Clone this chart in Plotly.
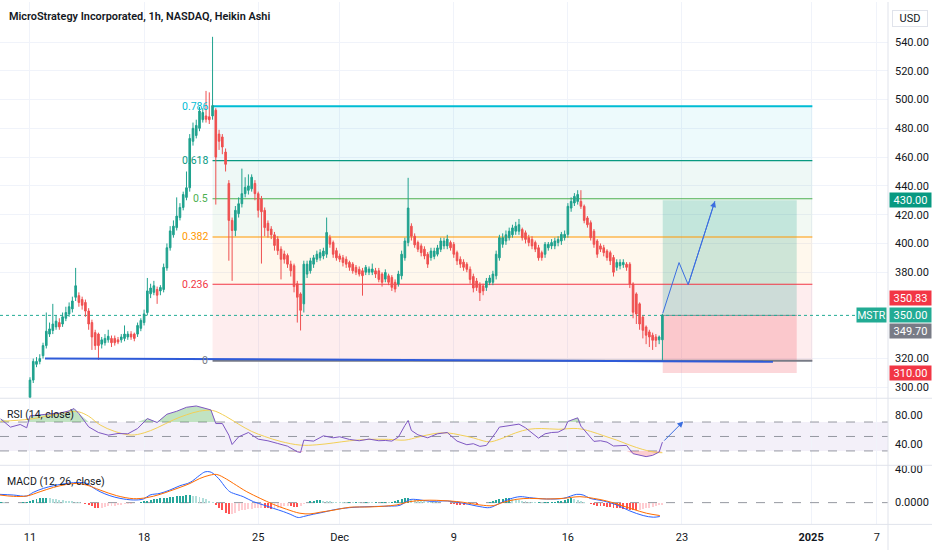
import numpy as np
import plotly.graph_objects as go

W, H = 932, 550

# ---------------- time axis (bar index of 1h regular-session bars) ----------------
TICK_POS = [0, 35, 70, 95, 130, 165, 200, 239.6, 259.8]
TICK_TEXT = ["11", "18", "25", "Dec", "9", "16", "23", "<b>2025</b>", "7"]

# ---------------- Heikin Ashi candles (bars 0..194) ----------------
HA_OPEN = [
    293, 305, 316, 318, 322, 329, 337, 339.5, 342, 345,
    344, 348, 351, 354.5, 362.6, 363.7, 361, 359, 353, 345,
    338, 337, 330, 331, 333, 334, 334, 333, 333, 334,
    335, 337, 337, 337, 341, 345, 352, 365, 366, 368,
    367, 368, 383, 397, 406, 411, 418, 425, 432, 438.7,
    471, 475, 480, 486, 488.6, 488, 488.6, 492.6, 476, 474,
    463.5, 441.7, 416, 409, 420.7, 427.6, 434.6, 436.9, 438, 441.7,
    434.6, 431, 423, 414, 410, 406, 403, 396, 392.7, 391.6,
    385.6, 384.5, 372, 364.9, 358, 378.7, 381, 385.6, 389, 390,
    391.3, 392.5, 404, 400.6, 395, 391.3, 390, 389, 386.8, 385.6,
    383.4, 382, 381, 380, 380, 380, 381, 381, 378.7, 375.2,
    377.5, 376.4, 373, 371.8, 377.5, 390, 400.6, 412, 405, 400.6,
    398.3, 396, 392.5, 390.2, 391, 392.5, 395.9, 398.3, 398.3, 400.6,
    399.4, 393.6, 389, 387, 385.6, 382, 377, 373.9, 371.6, 370.5,
    369.4, 372.8, 373, 377.5, 390, 399.4, 401.7, 404, 406, 408.5,
    408.5, 409.7, 407.4, 404, 402.8, 400.6, 397, 393.6, 392.5, 397,
    398.3, 398.3, 400.6, 401.7, 404, 406.3, 424.6, 428.1, 429.2, 429.2,
    425.8, 417.7, 414.4, 408.5, 401.7, 398.3, 397, 394.7, 393.6, 390.2,
    383.4, 384.5, 385.2, 385.6, 385.6, 371.8, 364.9, 358, 348.8, 341.9,
    338.5, 336.2, 335, 333, 333,
]
HA_CLOSE = [
    305, 318, 318, 320, 329, 339, 340.6, 344, 346, 342,
    349, 352, 356, 360, 370.6, 359, 357, 353, 344, 335,
    329, 329, 333, 334, 335.5, 331, 331, 331.5, 335, 337,
    337, 335, 334, 343, 346.5, 351, 367, 369, 370.6, 364,
    369.4, 383.4, 397, 408.7, 412, 419, 425, 434, 438.7, 473,
    480, 482, 492, 491, 486.3, 486, 495.8, 460, 471, 467,
    455, 416, 409, 423, 427.6, 434.6, 439, 440, 446, 434.6,
    423, 422, 411, 409, 406, 398.6, 395, 389, 389, 385.6,
    381, 370, 362.6, 353.5, 385.6, 385.6, 387.9, 390, 392.5, 393.6,
    394.7, 407.6, 399.5, 392.5, 390, 389, 386.8, 385.6, 383.4, 381,
    380, 378.7, 377.6, 383.4, 382.2, 382.2, 378.7, 375, 373, 379.8,
    373, 369.5, 368.3, 378.7, 392.5, 401.7, 424.6, 405, 399, 396,
    393.6, 391.3, 385.6, 394.7, 394.7, 396.9, 401.7, 401.7, 403, 397,
    392.5, 387.9, 385.6, 383.4, 382, 375, 369, 369.4, 365.8, 367,
    373.9, 376, 378.7, 392.5, 404, 404, 406, 408.5, 410.8, 412,
    413, 404, 402.8, 400.6, 398.3, 396, 390, 390.2, 399.4, 399.4,
    400.6, 401.7, 402.8, 406.3, 406.3, 425.8, 429.2, 432.7, 434, 425.8,
    416, 413, 404, 399.4, 392.5, 396, 393.6, 390.2, 387.9, 380,
    386.8, 386.8, 386.8, 383.4, 371.8, 352.2, 351, 344, 339.6, 336.2,
    335, 332.7, 332.7, 335, 350.2,
]
HA_HIGH = [
    307, 320, 321, 323, 331, 352, 345, 358, 350, 348,
    352, 356, 359, 363, 383, 366, 363, 361, 355, 347,
    340, 338, 335, 337, 340, 336, 336, 335, 337, 343,
    339, 339, 338, 345, 348, 354, 376, 372, 374, 370,
    371, 386, 400, 412, 416, 432, 428, 436, 450, 476,
    484, 486, 495, 494, 506, 505, 543.6, 494, 479, 476,
    466, 444, 418, 426, 432, 452, 446, 448, 448, 444,
    436, 433, 425, 416, 412, 408, 405, 398, 395, 393,
    388, 386, 374, 366, 388, 388, 390, 392, 395, 396,
    397, 418, 406, 402, 397, 393, 392, 391, 388, 387,
    385, 384, 383, 385, 384, 386, 383, 383, 380, 382,
    379, 378, 375, 381, 395, 404, 445.6, 414, 407, 402,
    400, 398, 394, 397, 397, 399, 404, 404, 406, 402,
    401, 395, 391, 389, 387, 384, 379, 376, 373, 372,
    376, 378, 381, 395, 406, 407, 409, 411, 413, 415,
    417, 411, 409, 406, 405, 402, 399, 395, 401, 401,
    403, 404, 405, 408, 409, 428, 432, 435, 437, 437,
    427, 419, 416, 410, 403, 400, 399, 396, 395, 392,
    389, 389, 389, 387, 387, 373, 366, 359, 350, 343,
    340, 338, 337, 336, 351,
]
HA_LOW = [
    290, 303, 314, 316, 320, 327, 335, 337, 340, 340,
    342, 346, 349, 352, 360, 356, 354, 349, 340, 326,
    326, 319, 327, 329, 331, 328, 329, 330, 331, 332,
    333, 333, 332, 335, 339, 343, 350, 362, 364, 358,
    364, 366, 381, 395, 404, 409, 416, 423, 430, 436,
    468, 473, 478, 484, 484, 483, 486, 427, 465, 462,
    450, 388, 374, 405, 418, 425, 432, 434, 436, 430,
    418, 386, 405, 404, 403, 395, 392, 375, 386, 383,
    377, 366, 345, 339.5, 352, 376, 379, 383, 387, 388,
    389, 390, 397, 390, 388, 387, 384, 383, 381, 379,
    378, 377, 363.7, 378, 378, 378, 376, 373, 370, 373,
    371, 367, 366, 370, 375, 388, 398, 402, 397, 394,
    391, 389, 383, 388, 389, 391, 394, 396, 396, 395,
    390, 385, 383, 381, 380, 372, 366, 367, 360, 364,
    367, 371, 371, 375, 388, 397, 399, 402, 404, 406,
    406, 402, 400, 398, 396, 394, 388, 388, 390, 395,
    396, 396, 398, 399, 402, 404, 422, 426, 427, 424,
    414, 411, 402, 397, 390, 394, 391, 388, 385, 377,
    381, 382, 383, 381, 369, 348, 344, 340, 334, 330,
    328, 326, 328, 330, 317.6,
]

# ---------------- RSI (14) read points: (bar, value) ----------------
RSI_PTS = [
    (-9, 74.4), (-6, 62.9), (-3, 66.6), (-1, 62), (0, 78.5), (3, 80.3), (6, 81.2), (9, 82.2),
    (12, 85.4), (13.5, 88.6), (15, 81.7), (18, 63.3), (21, 55.5), (24, 51.8), (27, 54.1),
    (30, 53.7), (33, 61.0), (36, 74.8), (39, 69.3), (42, 80.8), (45, 84.9), (48, 90.4),
    (51, 92.2), (54, 88.6), (55.5, 86.7), (57, 67.9), (59, 67.9), (61, 51.8), (62, 38.9),
    (64, 49.5), (67, 55.5), (70, 46.3), (73, 44), (76, 40.3), (79, 36.6), (82, 28.8),
    (83, 27.9), (84, 44.9), (87, 43.6), (90, 50.9), (93, 48.2), (95, 49.6), (98, 45.9),
    (101, 44.1), (104, 46.4), (107, 44.1), (109, 44.5), (111, 43.6), (113, 49.1), (115, 65.2),
    (116, 72.1), (117, 58.3), (119, 52.3), (122, 48.2), (125, 53.7), (128, 55.5), (131, 43.6),
    (134, 38.6), (136, 40), (138, 36.3), (140, 37.7), (143, 56.1), (144, 63), (146, 64.3),
    (148, 66.2), (150, 67.1), (152, 62), (154, 55.1), (156, 47.7), (158, 53.7), (160, 55.5),
    (162, 56), (164, 60.6), (165, 70.8), (167, 74.4), (168, 75.8), (169, 64.3), (171, 53.7),
    (173, 43.2), (175, 44.1), (177, 42.2), (179, 36.8), (181, 37.7), (183, 37.7), (185, 26.2),
    (187, 23.9), (189, 22.1), (191, 23.9), (193, 28.5), (194, 42.2),
]
RSI_MA_PTS = [
    (-9, 71), (0, 74), (6, 79), (12, 84), (15, 84), (18, 78), (21.5, 66), (26, 57), (31, 52),
    (35, 55), (39, 62), (44, 73), (48, 80), (52, 85), (56, 86), (60, 78), (64, 67), (68, 57),
    (72, 50), (77, 43), (83, 38), (88, 38.5), (93, 41), (98, 44), (104, 46), (110, 46),
    (115, 45), (119, 49), (124, 54), (128, 55), (132, 52), (136, 48), (139, 44), (141, 42.5),
    (144, 46), (149, 55), (153, 60), (157, 61), (162, 60), (168, 61), (172, 57), (176, 51),
    (180, 45), (184, 38), (188, 32), (192, 28), (194, 27.5),
]

# ---------------- MACD (12, 26) read points ----------------
MACD_PTS = [
    (-9.2, 10.0), (-5.1, 9.2), (-1.0, 8.0), (1.0, 12.4), (4.1, 17.2), (7.2, 20.4), (11.2, 23.2),
    (15.3, 24.4), (17.4, 23.2), (19.4, 18.0), (21.5, 13.2), (24.5, 8.4), (27.6, 5.2), (31.7, 3.2),
    (34.8, 4.4), (36.8, 9.2), (39.9, 11.2), (42.9, 15.2), (46, 20.4), (49.1, 24.4), (52.1, 33.2),
    (53.7, 37.2), (55.2, 37.2), (56.2, 35.2), (58.3, 27.2), (59.8, 19.2), (61.3, 13.2),
    (62.4, 11.2), (65.4, 7.2), (68.5, 1.2), (71.6, -2.8), (74.6, -6.8), (77.7, -10.8),
    (79.8, -14.0), (82.3, -18.0), (83.9, -16.8), (86.9, -14.0), (90, -11.6), (93, -8.8),
    (98.1, -6.0), (104.3, -4.8), (110, -4.2), (113.5, -3.2), (116.5, 3.6), (119, 3.6),
    (122.7, 1.6), (128, 2.0), (133, -0.8), (138, -4.8), (141, -6.0), (144, -1.0), (147.2, 4.4),
    (150.3, 7.2), (153.3, 6.0), (158.4, 4.4), (163.6, 5.2), (167.7, 10.0), (169.7, 9.2),
    (171.8, 5.2), (175.9, 2.0), (180, -2.8), (184, -10.0), (188.1, -15.6), (191.2, -17.6),
    (193.2, -16.8),
]
SIGNAL_PTS = [
    (-9.2, 9.2), (-5.1, 7.6), (-1.0, 8.0), (3.1, 13.2), (7.2, 18.4), (11.2, 22.0), (14.3, 23.2),
    (17.4, 21.2), (21.5, 15.2), (26.6, 8.4), (31.7, 4.8), (35.8, 6.0), (39.9, 10.0), (42.9, 14.0),
    (46, 18.4), (49.1, 23.2), (52.1, 29.2), (55.2, 33.2), (57.3, 34.0), (60.3, 28.4), (62.4, 23.2),
    (66.5, 13.2), (70.6, 5.2), (74.6, -2.0), (78.7, -8.0), (82.8, -12.8), (85.9, -13.6),
    (89, -11.6), (93, -9.2), (98.1, -5.6), (104.3, -5.2), (112.4, -2.8), (116.5, 1.2),
    (120.6, 2.8), (124.7, 2.8), (128.8, 2.0), (132.9, 0.4), (138, -2.8), (142.1, -3.6),
    (145.2, 0.4), (149.3, 4.0), (153.3, 5.2), (158.5, 4.4), (163.6, 5.2), (168.7, 7.2),
    (172.8, 5.2), (176.9, 2.0), (181, -2.8), (185, -8.0), (189.1, -12.8), (193.2, -15.6),
]
HIST_START = -9
HIST = [
    0.5, 0.3, -0.3, -0.5, -0.8, -0.5, -0.3, 0.3, 0.8,
    2, 3.5, 4.5, 5, 5.5, 5.5, 5, 4.5, 4, 3.5, 3, 2.5,
    2, 1.5, 1, 0.5, 0,
    -1.5, -3, -4.5, -6, -7, -6.5, -5.5, -4.5, -4, -3.5,
    -3, -2.5, -2, -1.5, -1.2, -1, -0.5, 0.5, 1.5,
    2.5, 3.5, 4, 4.5, 5, 5.5, 6, 6.5, 7, 7.5, 8, 8.5, 9, 9, 8.5, 8, 7,
    5.5, 4, 2.5, 1,
    -3, -6, -9, -12, -14, -13.5, -12, -10,
    -9, -8.5, -8, -7.5, -7, -6.5, -6, -6.5, -7, -7.5, -7, -6, -5, -4.5, -4, -4.5, -5, -5.5, -4, -2, 0,
    1.5, 2.5, 3, 3, 2.5, 2, 1.5, 1.2, 1, 0.8, 0.6, 0.5,
    0.5, 0.3, 0.5, 0.3, 0.2, 0.5, 0.3, 0.2, 0.2, 0.1, 0.2, 0.3, 0.2, 0.3,
    1.5, 3, 4.5, 5.5, 6,
    4.5, 3.5, 2.5, 2, 1.5, 1, 0.5, 0.3, 0.2,
    0, -0.5, -1, -1.5, -2, -2.5, -3, -3, -2.5, -2, -1.5, -1.5, -1, -0.5, 0, 0.5, 1.5,
    3, 4, 4.5, 5, 5, 4.5, 4,
    3, 2.5, 1.5, 1, 0.8, 0.5, 0.5, 0.3, 0.5, 0.8, 1, 1.2, 1.5,
    2.5, 3.5, 4.5, 5, 4.5, 3.5,
    2, 0.5, -1, -2, -3, -3.5, -4, -4.5, -5, -5.5, -6, -6.5, -7, -7.5, -8, -8.5, -9, -9,
    -8.5, -8, -7, -6, -5, -4, -3, -2.5,
]

# ---------------- drawings ----------------
FIB_LEVELS = [0, 0.236, 0.382, 0.5, 0.618, 0.786]
FIB_LABELS = ["0", "0.236", "0.382", "0.5", "0.618", "0.786"]
FIB_LOW, FIB_HIGH = 318.5, 543.6
FIB_X = (56, 240)
TREND_X, TREND_Y = [4.6, 227.9], [320.1, 317.8]
POS_X = (194.1, 235.2)
POS_ENTRY, POS_TARGET, POS_STOP = 350.0, 430.0, 310.0
PATH_X = [194.1, 199.1, 201.9, 210.1]
PATH_Y = [351.4, 386.7, 371.3, 429.4]
RSI_ARROW = [(194.1, 42.2), (200.4, 70.8)]
LAST_PRICE = 350.00

# ---------------- styling ----------------
UP, DOWN = "#1fa28e", "#ef5050"
FIB_COLORS = ["#787b86", "#f23645", "#ff9800", "#4caf50", "#089981", "#00bcd4"]
FIB_FILLS = [None, "rgba(242,54,69,0.09)", "rgba(255,152,0,0.07)", "rgba(76,175,80,0.07)",
             "rgba(8,153,129,0.07)", "rgba(0,188,212,0.07)"]
GRID = "#f0f3fa"
SEP = "#e0e3eb"
TXT = "#131722"
FONT = "Roboto"

X_RANGE = [-9.2, 263.2]
XDOM = [0, 888 / W]
PRICE_DOM = [1 - 397.7 / H, 1]
RSI_DOM = [1 - 465 / H, 1 - 397.7 / H]
MACD_DOM = [1 - 524.3 / H, 1 - 465 / H]

fig = go.Figure()

bars = list(range(len(HA_CLOSE)))
fig.add_trace(go.Candlestick(
    x=bars, open=HA_OPEN, high=HA_HIGH, low=HA_LOW, close=HA_CLOSE,
    increasing=dict(line=dict(color=UP, width=1), fillcolor=UP),
    decreasing=dict(line=dict(color=DOWN, width=1), fillcolor=DOWN),
    xaxis="x", yaxis="y", hoverinfo="skip", showlegend=False))

# trendline (blue)
fig.add_trace(go.Scatter(x=TREND_X, y=TREND_Y, mode="lines", line=dict(color="#2f5bd8", width=2),
                         xaxis="x", yaxis="y", hoverinfo="skip", showlegend=False))
# projected path
fig.add_trace(go.Scatter(x=PATH_X, y=PATH_Y, mode="lines", line=dict(color="#3b6ee0", width=1),
                         xaxis="x", yaxis="y", hoverinfo="skip", showlegend=False))

# RSI fills
rx = [p[0] for p in RSI_PTS]
rv = np.array([p[1] for p in RSI_PTS])
fig.add_trace(go.Scatter(x=rx, y=[70] * len(rx), mode="lines", line=dict(width=0),
                         xaxis="x", yaxis="y2", hoverinfo="skip", showlegend=False))
fig.add_trace(go.Scatter(x=rx, y=np.maximum(rv, 70), mode="lines", line=dict(width=0),
                         fill="tonexty", fillcolor="rgba(76,175,80,0.35)",
                         xaxis="x", yaxis="y2", hoverinfo="skip", showlegend=False))
fig.add_trace(go.Scatter(x=rx, y=[30] * len(rx), mode="lines", line=dict(width=0),
                         xaxis="x", yaxis="y2", hoverinfo="skip", showlegend=False))
fig.add_trace(go.Scatter(x=rx, y=np.minimum(rv, 30), mode="lines", line=dict(width=0),
                         fill="tonexty", fillcolor="rgba(242,54,69,0.25)",
                         xaxis="x", yaxis="y2", hoverinfo="skip", showlegend=False))
fig.add_trace(go.Scatter(x=[p[0] for p in RSI_MA_PTS], y=[p[1] for p in RSI_MA_PTS], mode="lines",
                         line=dict(color="#f2cf56", width=1, shape="spline"),
                         xaxis="x", yaxis="y2", hoverinfo="skip", showlegend=False))
fig.add_trace(go.Scatter(x=rx, y=rv, mode="lines", line=dict(color="#7e57c2", width=1),
                         xaxis="x", yaxis="y2", hoverinfo="skip", showlegend=False))

# MACD histogram
hx = list(range(HIST_START, HIST_START + len(HIST)))
hcol = []
for k, v in enumerate(HIST):
    prev = HIST[k - 1] if k > 0 else v
    if v >= 0:
        hcol.append("#26a69a" if v >= prev else "#b2dfdb")
    else:
        hcol.append("#ff5252" if v <= prev else "#ffcdd2")
fig.add_trace(go.Bar(x=hx, y=HIST, marker=dict(color=hcol, line=dict(width=0)), width=0.6,
                     xaxis="x", yaxis="y3", hoverinfo="skip", showlegend=False))
fig.add_trace(go.Scatter(x=[p[0] for p in MACD_PTS], y=[p[1] for p in MACD_PTS], mode="lines",
                         line=dict(color="#2962ff", width=1, shape="spline"),
                         xaxis="x", yaxis="y3", hoverinfo="skip", showlegend=False))
fig.add_trace(go.Scatter(x=[p[0] for p in SIGNAL_PTS], y=[p[1] for p in SIGNAL_PTS], mode="lines",
                         line=dict(color="#ff6d00", width=1, shape="spline"),
                         xaxis="x", yaxis="y3", hoverinfo="skip", showlegend=False))

shapes = []
# fib fills + lines
fib_prices = [FIB_LOW + l * (FIB_HIGH - FIB_LOW) for l in FIB_LEVELS]
for k in range(1, len(FIB_LEVELS)):
    shapes.append(dict(type="rect", xref="x", yref="y", x0=FIB_X[0], x1=FIB_X[1],
                       y0=fib_prices[k - 1], y1=fib_prices[k], fillcolor=FIB_FILLS[k],
                       line=dict(width=0), layer="between"))
# position tool
shapes.append(dict(type="rect", xref="x", yref="y", x0=POS_X[0], x1=POS_X[1], y0=POS_ENTRY,
                   y1=POS_TARGET, fillcolor="rgba(8,153,129,0.2)", line=dict(width=0), layer="between"))
shapes.append(dict(type="rect", xref="x", yref="y", x0=POS_X[0], x1=POS_X[1], y0=POS_STOP,
                   y1=POS_ENTRY, fillcolor="rgba(242,54,69,0.2)", line=dict(width=0), layer="between"))
for k, p in enumerate(fib_prices):
    shapes.append(dict(type="line", xref="x", yref="y", x0=FIB_X[0], x1=FIB_X[1], y0=p, y1=p,
                       line=dict(color=FIB_COLORS[k], width=2 if k in (0, 5) else 1.2), layer="between"))
shapes.append(dict(type="line", xref="x", yref="y", x0=POS_X[0], x1=POS_X[1], y0=POS_ENTRY,
                   y1=POS_ENTRY, line=dict(color="#8a8d96", width=1), layer="between"))
# last price dotted line
shapes.append(dict(type="line", xref="x", yref="y", x0=X_RANGE[0], x1=X_RANGE[1], y0=LAST_PRICE,
                   y1=LAST_PRICE, line=dict(color="#22ab94", width=1, dash="dot"), layer="between"))
# RSI band + levels
shapes.append(dict(type="rect", xref="x", yref="y2", x0=X_RANGE[0], x1=X_RANGE[1], y0=30, y1=70,
                   fillcolor="rgba(126,87,194,0.09)", line=dict(width=0), layer="below"))
for lv in (70, 50, 30):
    shapes.append(dict(type="line", xref="x", yref="y2", x0=X_RANGE[0], x1=X_RANGE[1], y0=lv, y1=lv,
                       line=dict(color="#9598a1", width=1, dash="dash"), layer="between"))
shapes.append(dict(type="line", xref="x", yref="y3", x0=X_RANGE[0], x1=X_RANGE[1], y0=0, y1=0,
                   line=dict(color="#9598a1", width=1, dash="dash"), layer="between"))
# pane separators
for yy in (PRICE_DOM[0], RSI_DOM[0], MACD_DOM[0]):
    shapes.append(dict(type="line", xref="paper", yref="paper", x0=0, x1=1, y0=yy, y1=yy,
                       line=dict(color=SEP, width=1)))
shapes.append(dict(type="line", xref="paper", yref="paper", x0=XDOM[1], x1=XDOM[1], y0=0, y1=1,
                   line=dict(color=SEP, width=1)))

ann = []
ann.append(dict(text="MicroStrategy Incorporated, 1h, NASDAQ, Heikin Ashi", xref="paper", yref="paper",
                x=7 / W, y=1 - 15 / H, xanchor="left", yanchor="middle", showarrow=False,
                font=dict(family=FONT, size=10.9, color=TXT, weight=600)))
ann.append(dict(text="RSI (14, close)", xref="paper", yref="paper", x=5 / W, y=1 - 414 / H,
                xanchor="left", yanchor="middle", showarrow=False, font=dict(family=FONT, size=10.5, color=TXT)))
ann.append(dict(text="MACD (12, 26, close)", xref="paper", yref="paper", x=5 / W, y=1 - 481 / H,
                xanchor="left", yanchor="middle", showarrow=False, font=dict(family=FONT, size=10.5, color=TXT)))
for k, p in enumerate(fib_prices):
    ann.append(dict(text=FIB_LABELS[k], xref="x", yref="y", x=55.2, y=p, xanchor="right",
                    yanchor="middle", showarrow=False, font=dict(family=FONT, size=10.5, color=FIB_COLORS[k])))
# arrowheads
ann.append(dict(text="", xref="x", yref="y", axref="x", ayref="y", x=PATH_X[-1], y=PATH_Y[-1],
                ax=PATH_X[-2], ay=PATH_Y[-2], showarrow=True, arrowhead=2, arrowsize=1.2,
                arrowwidth=1, arrowcolor="#3b6ee0"))
ann.append(dict(text="", xref="x", yref="y2", axref="x", ayref="y2", x=RSI_ARROW[1][0], y=RSI_ARROW[1][1],
                ax=RSI_ARROW[0][0], ay=RSI_ARROW[0][1], showarrow=True, arrowhead=2, arrowsize=1.2,
                arrowwidth=1, arrowcolor="#3b6ee0"))
# price-scale badges
BADGES = [("430.00", 430.0, "#089981"), ("350.83", 362.3, "#f23645"), ("350.00", 350.0, "#22ab94"),
          ("349.70", 339.1, "#787b86"), ("310.00", 310.0, "#f23645")]
for txt, yv, col in BADGES:
    ann.append(dict(text=txt, xref="paper", yref="y", x=889 / W, y=yv, xanchor="left", yanchor="middle",
                    showarrow=False, bgcolor=col, width=41, height=14, borderpad=0,
                    font=dict(family=FONT, size=11, color="white")))
ann.append(dict(text="MSTR", xref="paper", yref="y", x=887 / W, y=LAST_PRICE, xanchor="right",
                yanchor="middle", showarrow=False, bgcolor="#22ab94", width=29, height=14, borderpad=0,
                font=dict(family=FONT, size=10.5, color="white")))
ann.append(dict(text="USD", xref="paper", yref="paper", x=892 / W, y=1 - 16.7 / H, xanchor="left",
                yanchor="middle", showarrow=False, bgcolor="white", bordercolor=SEP, borderwidth=1,
                width=34, height=15, borderpad=0, font=dict(family=FONT, size=11, color=TXT)))

PRICE_TICKS = [300, 320, 380, 400, 420, 440, 460, 480, 500, 520, 540]
axfont = dict(family=FONT, size=11, color=TXT)
fig.update_layout(
    width=W, height=H, margin=dict(l=0, r=0, t=0, b=0),
    paper_bgcolor="white", plot_bgcolor="white", showlegend=False, bargap=0,
    shapes=shapes, annotations=ann,
    xaxis=dict(domain=XDOM, range=X_RANGE, anchor="y3", tickvals=TICK_POS, ticktext=TICK_TEXT,
               showgrid=True, gridcolor=GRID, zeroline=False, showline=False, ticks="",
               tickfont=axfont, ticklabelstandoff=5, rangeslider=dict(visible=False), fixedrange=True),
    yaxis=dict(domain=PRICE_DOM, range=[292.4, 567.8], side="right", anchor="x",
               tickvals=PRICE_TICKS, ticktext=[f"{v:.2f}" for v in PRICE_TICKS],
               showgrid=True, gridcolor=GRID, zeroline=False, ticks="", tickfont=axfont,
               ticklabelstandoff=6),
    yaxis2=dict(domain=RSI_DOM, range=[10.1, 102.9], side="right", anchor="x",
                tickvals=[40, 80], ticktext=["40.00", "80.00"], showgrid=False, zeroline=False,
                ticks="", tickfont=axfont, ticklabelstandoff=6),
    yaxis3=dict(domain=MACD_DOM, range=[-26.3, 45.1], side="right", anchor="x",
                tickvals=[0, 40], ticktext=["0.0000", "40.00"], showgrid=False, zeroline=False,
                ticks="", tickfont=axfont, ticklabelstandoff=6),
)

fig.write_html("out.html", config={"displayModeBar": False, "staticPlot": True},
               post_script="document.body.style.margin='0';document.body.style.overflow='hidden';")
